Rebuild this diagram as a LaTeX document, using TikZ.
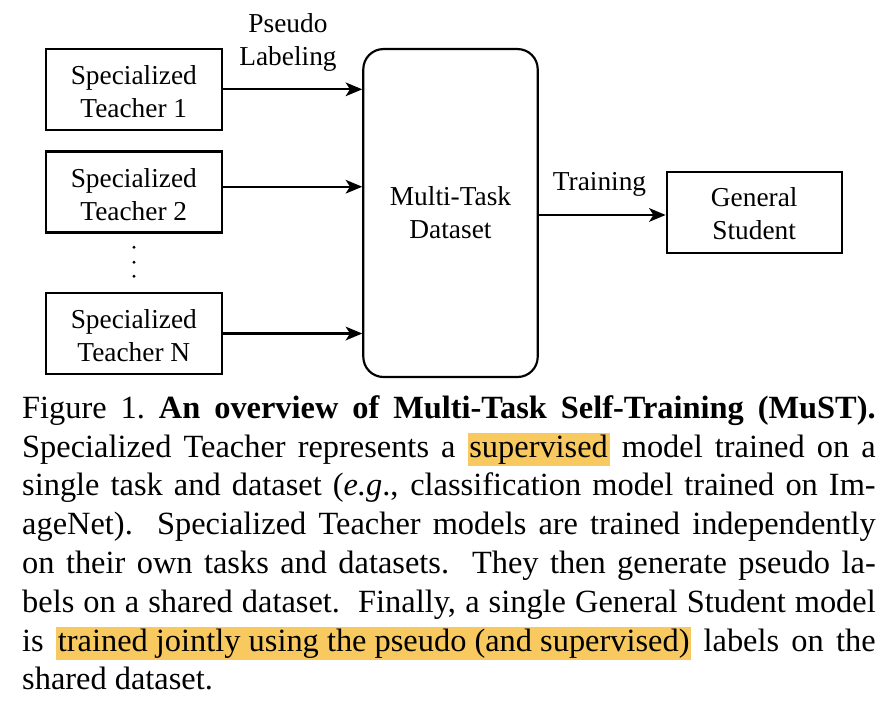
\documentclass[tikz,border=0pt]{standalone}
\usepackage{fontspec}
\setmainfont{Liberation Serif}
\usetikzlibrary{arrows.meta}
\definecolor{hl}{HTML}{F7C95F}
\newcommand{\hlbox}[1]{{\setlength{\fboxsep}{0.5pt}\colorbox{hl}{\rule[-2.1pt]{0pt}{8.2pt}#1}}}
\newcommand{\capline}[1]{\makebox[237.1pt][s]{#1}}
\newcommand{\lowr}{\rule{0pt}{6.6pt}}
\begin{document}
\begin{tikzpicture}[x=0.2778pt, y=-0.2778pt,
  box/.style={draw, line width=0.6pt, minimum width=48.8pt, minimum height=22.5pt,
    inner sep=0pt, align=center, font=\fontsize{7.6}{9.1}\selectfont},
  arr/.style={-{Stealth[length=4.6pt,width=3.8pt,inset=1.2pt]}, line width=0.6pt},
  lbl/.style={align=center, inner sep=0pt, font=\fontsize{7.6}{9.1}\selectfont},
  capstyle/.style={anchor=base west, inner sep=0pt, font=\fontsize{9}{10.8}\selectfont}]
\useasboundingbox (0,0) rectangle (886,718);
% diagram nodes
\node[box] (t1) at (133.8,89.3) {\lowr Specialized\\Teacher 1};
\node[box] (t2) at (133.8,192) {\lowr Specialized\\Teacher 2};
\node[box] (tN) at (133.8,333.5) {\lowr Specialized\\Teacher N};
\node[box, minimum width=48.45pt, minimum height=91.1pt, rounded corners=5.6pt] (ds) at (450.5,213) {Multi-Task\\Dataset};
\node[box, minimum width=48.6pt] (st) at (754.2,212.8) {\rule{0pt}{5.8pt}General\\Student};
% vertical ellipsis
\fill (134,247.3) circle (0.45pt) (134,262.3) circle (0.45pt) (134,276.3) circle (0.45pt);
% labels
\node[lbl] (pl) at (288,42.3) {Pseudo\\Labeling};
\node[lbl, anchor=base] (tr) at (599.5,190.7) {Training};
% connectors
\coordinate (a2) at ([yshift=1.47pt]t2.east);
\coordinate (a4) at ([yshift=-0.6pt]st.west);
\draw[arr] (t1.east) -- (t1.east -| ds.west);
\draw[arr] (a2) -- (a2 -| ds.west);
\draw[arr] (tN.east) -- (tN.east -| ds.west);
\draw[arr] (a4 -| ds.east) -- (a4);
% caption
\node[capstyle] (c1) at (21.5,418.3) {\capline{Figure 1.\ \textbf{An overview of Multi-Task Self-Training (MuST).}}};
\node[capstyle] (c2) at (21.5,457.1) {\capline{Specialized Teacher represents a \hlbox{supervised} model trained on a}};
\node[capstyle] (c3) at (21.5,495.9) {\capline{single task and dataset (\textit{e.g}., classification model trained on Im-}};
\node[capstyle] (c4) at (21.5,534.7) {\capline{ageNet).\ \ Specialized Teacher models are trained independently}};
\node[capstyle] (c5) at (21.5,573.5) {\capline{on their own tasks and datasets.\ \ They then generate pseudo la-}};
\node[capstyle] (c6) at (21.5,612.3) {\capline{bels on a shared dataset.\ \ Finally, a single General Student model}};
\node[capstyle] (c7) at (21.5,651.1) {\capline{is \hlbox{trained jointly using the pseudo (and supervised)} labels on the}};
\node[capstyle] (c8) at (21.5,689.9) {shared dataset.};
\end{tikzpicture}
\end{document}
